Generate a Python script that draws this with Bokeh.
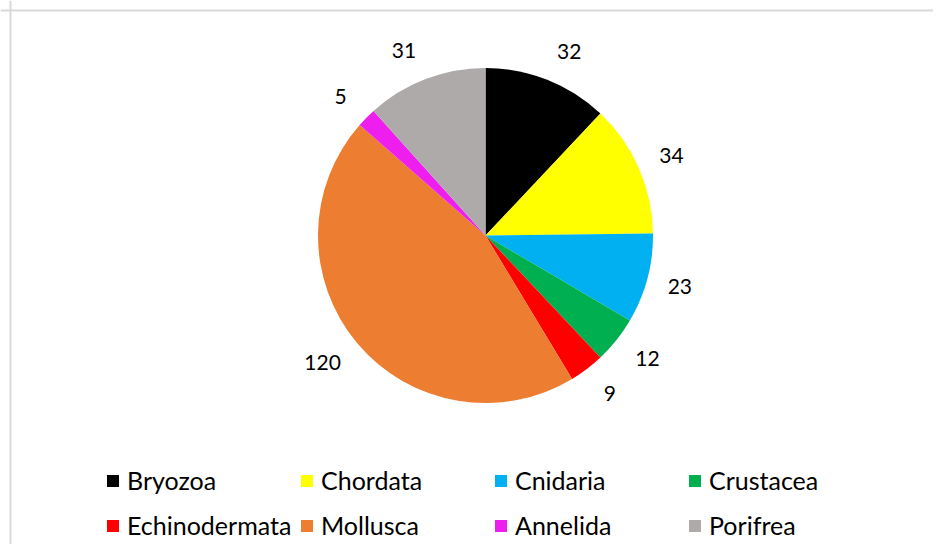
import math
from bokeh.plotting import figure
from bokeh.models import ColumnDataSource, Range1d, Legend, LegendItem, Span
from bokeh.core.properties import value
from bokeh.embed import file_html
from bokeh.resources import INLINE

categories = ["Bryozoa", "Chordata", "Cnidaria", "Crustacea",
              "Echinodermata", "Mollusca", "Annelida", "Porifrea"]
counts = [32, 34, 23, 12, 9, 120, 5, 31]
colors = ["#000000", "#FFFF00", "#00B0F0", "#00B050",
          "#FF0000", "#ED7D31", "#EE1EEE", "#AEAAAA"]

# layout (pixels)
W, H = 933, 544
CX, CY = 485, 235          # pie centre in canvas pixels
R = 167.5                  # pie radius
LR = 198                   # label distance from centre
DIGIT_W = 11.5             # approx. width of one digit of the label font

total = sum(counts)
starts, ends, lx, ly = [], [], [], []
cum = 0
for c in counts:
    a0 = math.pi / 2 - 2 * math.pi * cum / total
    cum += c
    a1 = math.pi / 2 - 2 * math.pi * cum / total
    starts.append(a0)
    ends.append(a1)
    mid = (a0 + a1) / 2
    s, co = math.cos(mid), math.sin(mid)
    half_w = len(str(c)) * DIGIT_W / 2
    push = math.copysign(half_w * abs(co), s)
    lx.append(LR * s + push)
    ly.append(LR * co)

src = ColumnDataSource(dict(cat=categories, val=counts, color=colors,
                            start=starts, end=ends, lx=lx, ly=ly,
                            txt=[str(v) for v in counts]))

p = figure(width=W, height=H, output_backend="svg", toolbar_location=None,
           x_range=Range1d(-CX, W - CX), y_range=Range1d(CY - H, CY),
           min_border=0, min_border_left=0, min_border_top=0,
           min_border_right=0, min_border_bottom=0,
           background_fill_color="white", border_fill_color="white",
           outline_line_color=None)
p.axis.visible = False
p.grid.visible = False

# chart-area border (top and left edges visible)
p.add_layout(Span(location=10 - CX, dimension="height",
                  line_color="#D9D9D9", line_width=2))
p.add_layout(Span(location=CY - 10, dimension="width",
                  line_color="#D9D9D9", line_width=2))

r = p.wedge(x=0, y=0, radius=R, start_angle="start", end_angle="end",
            direction="clock", fill_color="color", line_color=None, source=src)

p.text(x="lx", y="ly", text="txt", source=src, text_align="center",
       text_baseline="middle", text_font=value("Lato"), text_font_size="21px",
       text_color="#000000")

items = [LegendItem(label=c, renderers=[r], index=i) for i, c in enumerate(categories)]
legend = Legend(items=items, orientation="horizontal", ncols=4,
                location=(105, 0), glyph_width=15, glyph_height=15,
                label_standoff=7, label_width=165, label_height=38, spacing=7,
                padding=0, margin=0, border_line_color=None,
                background_fill_alpha=0, label_text_font="Lato",
                label_text_font_size="25px", label_text_color="#000000")
p.add_layout(legend)

open("out.html", "w").write(file_html(p, INLINE))
